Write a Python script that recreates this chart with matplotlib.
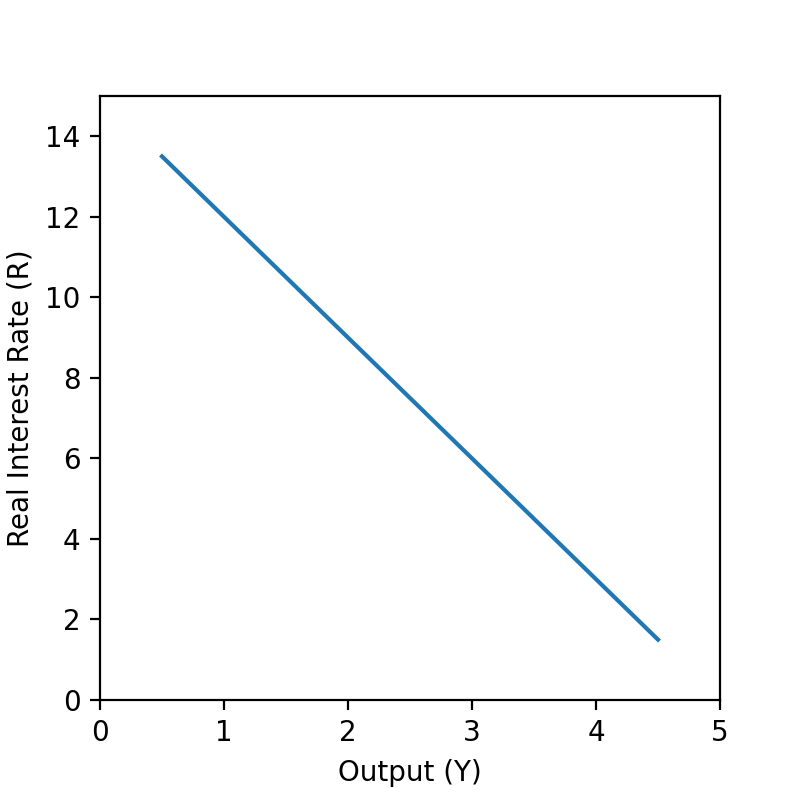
import matplotlib
matplotlib.use('Agg')
import matplotlib.pyplot as plt

# IS curve points
output_y = [0.5, 1.0, 1.5, 2.0, 2.5, 3.0, 3.5, 4.0, 4.5]
rate_r = [13.5, 12.0, 10.5, 9.0, 7.5, 6.0, 4.5, 3.0, 1.5]

fig, ax = plt.subplots(figsize=(4, 4), dpi=200)
fig.subplots_adjust(left=0.125, right=0.9, bottom=0.125, top=0.88)

ax.plot(output_y, rate_r, color='tab:blue')
ax.set_xlim(0, 5)
ax.set_ylim(0, 15)
ax.set_xticks([0, 1, 2, 3, 4, 5])
ax.set_yticks([0, 2, 4, 6, 8, 10, 12, 14])
ax.set_xlabel('Output (Y)')
ax.set_ylabel('Real Interest Rate (R)')

fig.savefig('out.png', dpi=200)
